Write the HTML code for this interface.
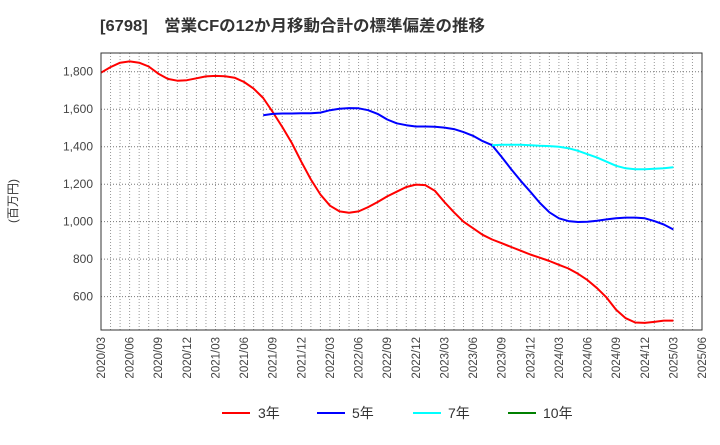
<!DOCTYPE html>
<html><head><meta charset="utf-8"><style>
body{margin:0;background:#fff;width:720px;height:440px;overflow:hidden}
svg{font-family:"Liberation Sans","Noto Sans CJK JP",sans-serif}
</style></head><body>
<svg id="chart" width="720" height="440" xmlns="http://www.w3.org/2000/svg">
<text x="100" y="31" font-size="16" font-weight="bold" fill="#333" textLength="385" lengthAdjust="spacingAndGlyphs">[6798]　営業CFの12か月移動合計の標準偏差の推移</text>
<text transform="translate(17,201) rotate(-90)" text-anchor="middle" font-size="12" fill="#333">(百万円)</text>
<g id="grid"></g>
<g id="yticks"></g>
<g id="xticks"></g>
<g id="series"></g>
<rect x="101" y="53" width="601" height="277" fill="none" stroke="#333" stroke-width="1"/>
<g font-size="14" fill="#333">
<g><line x1="222" y1="413" x2="250" y2="413" stroke="#f00" stroke-width="2"/><text x="258" y="418">3年</text></g>
<g><line x1="317" y1="413" x2="345" y2="413" stroke="#00f" stroke-width="2"/><text x="352" y="418">5年</text></g>
<g><line x1="413" y1="413" x2="441" y2="413" stroke="#0ff" stroke-width="2"/><text x="448" y="418">7年</text></g>
<g><line x1="508" y1="413" x2="536" y2="413" stroke="#008000" stroke-width="2"/><text x="543" y="418">10年</text></g>
</g>
</svg>
<script>
const xLabels=["2020/03","2020/06","2020/09","2020/12","2021/03","2021/06","2021/09","2021/12","2022/03","2022/06","2022/09","2022/12","2023/03","2023/06","2023/09","2023/12","2024/03","2024/06","2024/09","2024/12","2025/03","2025/06"];
const yTicks=[600,800,1000,1200,1400,1600,1800];
const s3=[1795,1825,1848,1855,1848,1828,1790,1762,1752,1755,1765,1775,1778,1776,1768,1745,1710,1660,1585,1505,1420,1320,1225,1145,1085,1055,1048,1055,1078,1105,1135,1160,1185,1198,1195,1165,1105,1050,1000,965,930,905,885,865,845,825,808,790,770,750,722,688,645,595,530,485,462,460,465,472,472];
const s5start=17;
const s5=[1568,1575,1577,1577,1578,1578,1582,1595,1603,1606,1605,1595,1575,1545,1525,1515,1508,1508,1506,1502,1494,1478,1458,1430,1408,1345,1280,1218,1160,1100,1050,1018,1003,998,1000,1005,1012,1018,1022,1022,1018,1003,985,958];
const s7start=41;
const s7=[1408,1410,1410,1410,1408,1405,1403,1400,1392,1378,1360,1342,1320,1298,1285,1280,1280,1282,1285,1290];
const s10start=0;
const s10=[];
const X0=101,X1=702,Y0=53,Y1=330,VMIN=422,VMAX=1900,NM=63;
const xs=m=>X0+m*(X1-X0)/NM;
const ys=v=>Y1-(v-VMIN)*(Y1-Y0)/(VMAX-VMIN);
const NS="http://www.w3.org/2000/svg";
function mk(tag,attrs,parent){const e=document.createElementNS(NS,tag);for(const k in attrs)e.setAttribute(k,attrs[k]);parent.appendChild(e);return e;}
const grid=document.getElementById('grid');
for(let m=1;m<NM;m++){const l=mk('line',{x1:xs(m),x2:xs(m),y1:Y0,y2:Y1,stroke:'#999','stroke-width':1,'stroke-dasharray':'1,2'},grid);

}
const yt=document.getElementById('yticks');
yTicks.forEach(v=>{const l=mk('line',{x1:X0,x2:X1,y1:ys(v),y2:ys(v),stroke:'#777','stroke-width':1,'stroke-dasharray':'1,2'},grid);


const t=mk('text',{x:93,y:ys(v)+4,'text-anchor':'end','font-size':12,fill:'#444'},yt);
t.textContent=v.toLocaleString('en-US');

});
const xt=document.getElementById('xticks');
xLabels.forEach((lab,i)=>{const x=xs(i*3);const t=mk('text',{transform:`translate(${x+4},337) rotate(-90)`,'text-anchor':'end','font-size':11.5,fill:'#444'},xt);
t.textContent=lab;

});
const sg=document.getElementById('series');
function draw(arr,start,color,name){if(!arr.length)return;const pts=arr.map((v,i)=>xs(start+i).toFixed(1)+','+ys(v).toFixed(1)).join(' ');
const p=mk('polyline',{points:pts,fill:'none',stroke:color,'stroke-width':2,'stroke-linejoin':'round'},sg);

}
draw(s3,0,'#f00','line-3y');
draw(s5,s5start,'#00f','line-5y');
draw(s7,s7start,'#0ff','line-7y');
draw(s10,s10start,'#008000','line-10y');
</script>
</body></html>
